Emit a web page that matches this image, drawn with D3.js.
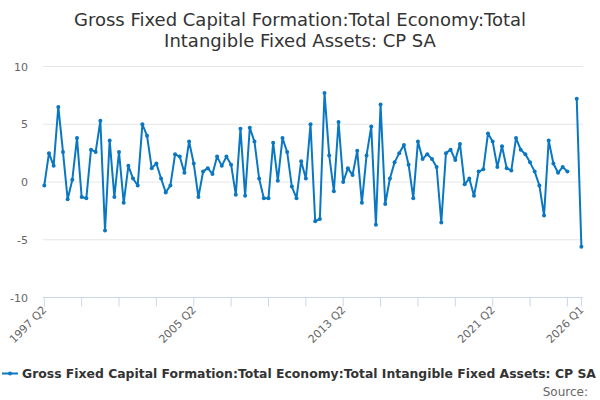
<!DOCTYPE html>
<html>
<head>
<meta charset="utf-8">
<script src="https://cdn.jsdelivr.net/npm/d3@7"></script>
<style>
  body { margin: 0; background: #fff; }
  svg { font-family: "DejaVu Sans", sans-serif; }
</style>
</head>
<body>
<svg id="chart" width="600" height="400"></svg>
<script>
// Quarterly % change, 1997 Q2 to 2026 Q1 (one missing quarter near the end)
var startYear = 1997;
var startQuarter = 2;
var values = [
  -0.3, 2.5, 1.4, 6.5, 2.6, -1.5, 0.2, 3.8, -1.3, -1.4,
  2.8, 2.6, 5.3, -4.2, 3.6, -1.3, 2.6, -1.8, 1.4, 0.3,
  -0.3, 5.0, 4.0, 1.2, 1.6, 0.3, -0.9, -0.3, 2.4, 2.2,
  0.8, 3.5, 1.6, -1.3, 0.9, 1.2, 0.7, 2.2, 1.4, 2.2,
  1.5, -1.1, 4.6, -1.2, 4.7, 3.5, 0.3, -1.4, -1.4, 3.4,
  0.1, 3.8, 2.6, -0.4, -1.4, 1.8, 0.3, 5.0, -3.4, -3.2,
  7.7, 2.3, -0.8, 5.2, 0.0, 1.2, 0.6, 2.7, -1.8, 2.3,
  4.8, -3.7, 6.7, -1.9, 0.3, 1.7, 2.5, 3.2, 1.5, -1.4,
  3.5, 2.0, 2.4, 2.0, 1.3, -3.5, 2.5, 2.8, 1.9, 3.3,
  -0.2, 0.3, -1.2, 0.9, 1.1, 4.2, 3.5, 1.3, 3.1, 1.2,
  1.0, 3.8, 2.8, 2.4, 1.7, 0.9, -0.3, -2.9, 3.6, 1.6,
  0.8, 1.3, 0.9, null, 7.2, -5.6
];
var yTicks = [-10, -5, 0, 5, 10];
var xLabels = ["1997 Q2", "2005 Q2", "2013 Q2", "2021 Q2", "2026 Q1"];
var seriesName = "Gross Fixed Capital Formation:Total Economy:Total Intangible Fixed Assets: CP SA";
var titleLines = ["Gross Fixed Capital Formation:Total Economy:Total", "Intangible Fixed Assets: CP SA"];

// Build the quarter categories
var quarters = [];
for (var i = 0; i < values.length; i++) {
  var q = startQuarter - 1 + i;
  quarters.push((startYear + Math.floor(q / 4)) + " Q" + (q % 4 + 1));
}
var data = quarters.map(function(d, i) { return { q: d, v: values[i] }; });

var lineColor = "#0a77c2";
var svg = d3.select("#chart");

var x = d3.scalePoint().domain(quarters).range([44.3, 581.4]);
var y = d3.scaleLinear().domain([-10, 10]).range([297.5, 66.5]);

// Title
svg.append("g").selectAll("text")
  .data(titleLines)
  .join("text")
  .attr("x", 300)
  .attr("y", function(d, i) { return 26 + i * 21; })
  .attr("text-anchor", "middle")
  .attr("fill", "#333")
  .style("font-size", "18px")
  .text(function(d) { return d; });

// Gridlines + y labels
var yAxis = svg.append("g");
yAxis.selectAll("line")
  .data(yTicks.filter(function(t) { return t !== -10; }))
  .join("line")
  .attr("x1", 43).attr("x2", 583)
  .attr("y1", function(d) { return y(d); })
  .attr("y2", function(d) { return y(d); })
  .attr("stroke", "#e6e6e6");
yAxis.selectAll("text")
  .data(yTicks)
  .join("text")
  .attr("x", 28)
  .attr("y", function(d) { return y(d) + 4; })
  .attr("text-anchor", "end")
  .attr("fill", "#666")
  .style("font-size", "11px")
  .text(function(d) { return d; });

// X axis: ticks every 8 quarters plus the last one
var tickQs = quarters.filter(function(d, i) { return i % 8 === 0; });
tickQs.push(quarters[quarters.length - 1]);
var xAxis = svg.append("g");
xAxis.append("line")
  .attr("x1", 43).attr("x2", 583)
  .attr("y1", y(-10)).attr("y2", y(-10))
  .attr("stroke", "#ccd6eb");
xAxis.selectAll("line.tick")
  .data(tickQs)
  .join("line")
  .attr("class", "tick")
  .attr("x1", function(d) { return x(d); })
  .attr("x2", function(d) { return x(d); })
  .attr("y1", y(-10)).attr("y2", y(-10) + 9)
  .attr("stroke", "#ccd6eb");
xAxis.selectAll("text")
  .data(xLabels)
  .join("text")
  .attr("text-anchor", "end")
  .attr("fill", "#666")
  .style("font-size", "11px")
  .attr("transform", function(d) {
    return "translate(" + (x(d) + 3) + "," + (y(-10) + 13) + ") rotate(-45)";
  })
  .text(function(d) { return d; });

// Series line
var line = d3.line()
  .defined(function(d) { return d.v !== null; })
  .x(function(d) { return x(d.q); })
  .y(function(d) { return y(d.v); });

svg.append("path")
  .datum(data)
  .attr("d", line)
  .attr("fill", "none")
  .attr("stroke", lineColor)
  .attr("stroke-width", 2)
  .attr("stroke-linejoin", "round");

svg.append("g").selectAll("circle")
  .data(data.filter(function(d) { return d.v !== null; }))
  .join("circle")
  .attr("cx", function(d) { return x(d.q); })
  .attr("cy", function(d) { return y(d.v); })
  .attr("r", 2)
  .attr("fill", lineColor);

// Legend
var legend = svg.append("g");
legend.append("line")
  .attr("x1", 2).attr("x2", 18)
  .attr("y1", 373.5).attr("y2", 373.5)
  .attr("stroke", lineColor)
  .attr("stroke-width", 2);
legend.append("circle")
  .attr("cx", 10).attr("cy", 373.5).attr("r", 2)
  .attr("fill", lineColor);
legend.append("text")
  .attr("x", 22)
  .attr("y", 378)
  .attr("fill", "#333")
  .style("font-size", "12.4px")
  .style("font-weight", "bold")
  .text(seriesName);

// Credits
svg.append("text")
  .attr("x", 588)
  .attr("y", 396)
  .attr("text-anchor", "end")
  .attr("fill", "#666")
  .style("font-size", "12px")
  .text("Source:");
</script>
</body>
</html>
